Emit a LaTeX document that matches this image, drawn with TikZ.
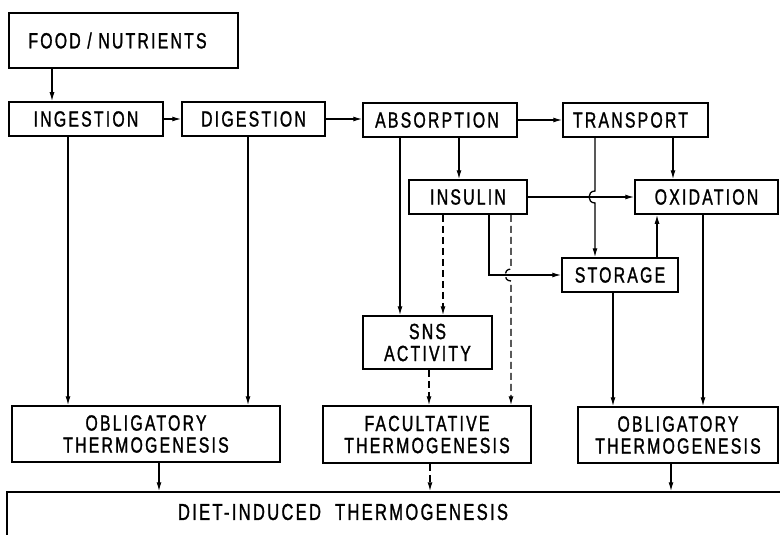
\documentclass[tikz,border=0pt]{standalone}
\usepackage{fontspec}
\setmainfont[FakeStretch=0.72,LetterSpace=10,FakeBold=1.2]{Liberation Sans}
\usetikzlibrary{arrows.meta,calc}
\tikzset{
  box/.style={draw, line width=1.5pt, rectangle, inner sep=0pt, align=center,
    font=\fontsize{22}{22}\selectfont},
  arr/.style={line width=1.3pt, -{Latex[length=9pt,width=5pt]}},
  dsh/.style={arr, dash pattern=on 7pt off 4pt},
}
\begin{document}
\begin{tikzpicture}[x=1pt,y=-1pt]
\useasboundingbox (0,0) rectangle (780,535);
\clip (0,0) rectangle (780,535);
\fill[white] (0,0) rectangle (780,535);
% boxes
\node[box, minimum width=229pt, minimum height=55pt] (food) at (123.5,40.5) {FOOD / NUTRIENTS\hspace{12pt}};
\node[box, minimum width=154pt, minimum height=34pt] (ing) at (86,119) {INGESTION};
\node[box, minimum width=143pt, minimum height=34pt] (dig) at (253.5,119) {DIGESTION};
\node[box, minimum width=154pt, minimum height=34pt] (abs) at (440,120) {ABSORPTION\hspace{6pt}};
\node[box, minimum width=145pt, minimum height=34pt] (tra) at (635.5,120) {TRANSPORT\hspace{10pt}};
\node[box, minimum width=118pt, minimum height=34pt] (ins) at (468,197) {INSULIN};
\node[box, minimum width=143pt, minimum height=34pt] (oxi) at (706.5,197) {OXIDATION};
\node[box, minimum width=116pt, minimum height=34pt] (sto) at (620,275) {STORAGE};
\node[box, minimum width=129pt, minimum height=53pt] (sns) at (427.5,342.5) {SNS\\ACTIVITY};
\node[box, minimum width=268pt, minimum height=56pt] (ob1) at (146,434) {OBLIGATORY\\THERMOGENESIS};
\node[box, minimum width=208pt, minimum height=57pt] (fac) at (427,434.5) {FACULTATIVE\\THERMOGENESIS};
\node[box, minimum width=200pt, minimum height=56pt] (ob2) at (678,435) {OBLIGATORY\\THERMOGENESIS};
\node[box, minimum width=793pt, minimum height=66pt] (diet) at (403.5,525) {};
\node[font=\fontsize{23}{22}\selectfont, inner sep=0pt] (dietlbl) at (343,512) {DIET-INDUCED\hspace{14pt}THERMOGENESIS};
% connectors
\draw[arr] (food.south -| 52,0) -- (ing.north -| 52,0);
\draw[arr] (ing.east) -- (dig.west);
\draw[arr] (dig.east) -- (abs.west |- dig.east);
\draw[arr] (abs.east) -- (tra.west);
\draw[arr] (ing.south -| 68,0) -- (ob1.north -| 68,0);
\draw[arr] (dig.south -| 248,0) -- (ob1.north -| 248,0);
\draw[arr] (abs.south -| 459,0) -- (ins.north -| 459,0);
\draw[arr] (abs.south -| 400,0) -- (sns.north -| 400,0);
\draw[dsh] (ins.south -| 443,0) -- (sns.north -| 443,0);
\draw[dsh] (ins.south -| 511,0) -- (511,269) .. controls (503,269) and (503,281) .. (511,281) -- (fac.north -| 511,0);
\draw[arr] (ins.south -| 489,0) |- (sto.west);
\draw[arr] (ins.east) -- (oxi.west);
\draw[arr] (tra.south -| 595,0) -- (595,191) .. controls (587,191) and (587,203) .. (595,203) -- (sto.north -| 595,0);
\draw[arr] (tra.south -| 673,0) -- (oxi.north -| 673,0);
\draw[arr] (sto.north -| 657,0) -- (oxi.south -| 657,0);
\draw[arr] (sto.south -| 613,0) -- (ob2.north -| 613,0);
\draw[arr] (oxi.south -| 703,0) -- (ob2.north -| 703,0);
\draw[dsh] (sns.south -| 429,0) -- (fac.north -| 429,0);
\draw[arr] (ob1.south -| 159,0) -- (diet.north -| 159,0);
\draw[dsh] (fac.south -| 430,0) -- (diet.north -| 430,0);
\draw[arr] (ob2.south -| 671,0) -- (diet.north -| 671,0);
\end{tikzpicture}
\end{document}
